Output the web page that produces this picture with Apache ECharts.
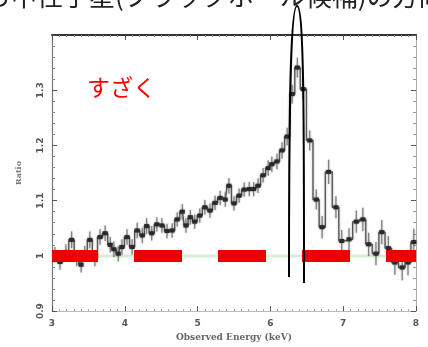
<!DOCTYPE html>
<html>
<head>
<meta charset="utf-8">
<script src="https://cdn.jsdelivr.net/npm/echarts@6/dist/echarts.min.js"></script>
<style>
  html, body { margin: 0; padding: 0; background: #fff; }
  #main { width: 428px; height: 347px; }
</style>
</head>
<body>
<div id="main"></div>
<script>
// spectrum ratio (keV, data/model)
const energy = [3.04, 3.11, 3.19, 3.27, 3.34, 3.40, 3.45, 3.52, 3.59, 3.66,
  3.73, 3.80, 3.85, 3.91, 3.96, 4.03, 4.10, 4.17, 4.24, 4.30,
  4.37, 4.44, 4.51, 4.58, 4.65, 4.72, 4.79, 4.84, 4.90, 4.96,
  5.03, 5.10, 5.17, 5.24, 5.31, 5.38, 5.43, 5.50, 5.57, 5.64,
  5.71, 5.77, 5.83, 5.90, 5.97, 6.02, 6.09, 6.16, 6.23, 6.30,
  6.37, 6.45, 6.54, 6.63, 6.71, 6.80, 6.90, 6.98, 7.08, 7.18,
  7.27, 7.35, 7.45, 7.53, 7.62, 7.71, 7.81, 7.89, 7.97];
const ratio = [1.002, 0.989, 1.007, 1.029, 0.995, 0.984, 1.004, 1.029, 0.995, 1.034,
  1.041, 1.020, 1.012, 1.004, 1.016, 1.034, 1.016, 1.046, 1.037, 1.054,
  1.041, 1.057, 1.055, 1.045, 1.046, 1.066, 1.080, 1.055, 1.070, 1.062,
  1.073, 1.088, 1.082, 1.096, 1.105, 1.102, 1.127, 1.095, 1.109, 1.120,
  1.121, 1.121, 1.127, 1.146, 1.159, 1.166, 1.171, 1.191, 1.216, 1.293,
  1.341, 1.302, 1.209, 1.102, 1.052, 1.152, 1.088, 1.027, 1.030, 1.062,
  1.066, 1.021, 1.004, 1.043, 1.014, 0.988, 0.979, 0.988, 1.025];
const ratioErr = [0.014, 0.014, 0.014, 0.015, 0.014, 0.014, 0.014, 0.015, 0.014, 0.014,
  0.014, 0.014, 0.014, 0.014, 0.014, 0.014, 0.014, 0.014, 0.014, 0.014,
  0.013, 0.013, 0.013, 0.013, 0.013, 0.013, 0.014, 0.013, 0.013, 0.013,
  0.013, 0.013, 0.013, 0.013, 0.013, 0.013, 0.014, 0.013, 0.013, 0.013,
  0.013, 0.013, 0.013, 0.013, 0.014, 0.014, 0.014, 0.015, 0.016, 0.017,
  0.018, 0.018, 0.018, 0.018, 0.020, 0.022, 0.020, 0.020, 0.020, 0.020,
  0.021, 0.021, 0.021, 0.022, 0.022, 0.022, 0.023, 0.023, 0.024];

const xTickLabels = ['3', '4', '5', '6', '7', '8'];
const yTickLabels = ['0.9', '1', '1.1', '1.2', '1.3', ''];
const modelLevel = [1];
const headline = 'ら中性子星(ブラックホール候補)の方向';
const missionLabel = 'すざく';

const chart = echarts.init(document.getElementById('main'));
const points = energy.map((e, i) => [e, ratio[i], ratioErr[i]]);
const stepPts = energy.map((e, i) => [e, ratio[i]]);

const labelFont = { fontSize: 9, fontWeight: 'bold', color: '#555', fontFamily: 'DejaVu Sans' };
const tickIn = { show: true, inside: true, length: 5, lineStyle: { color: '#555' } };
const blur = { shadowBlur: 2, shadowColor: 'rgba(0,0,0,0.4)' };

const option = {
  animation: false,
  grid: { left: 52, right: 12, top: 35, bottom: 32 },
  xAxis: [
    {
      type: 'value', min: 3, max: 8, interval: 1,
      name: 'Observed Energy (keV)', nameLocation: 'middle', nameGap: 20,
      nameTextStyle: { fontSize: 9, fontWeight: 'bold', color: '#666', fontFamily: 'DejaVu Serif' },
      axisLine: { lineStyle: { color: '#bbb', width: 1 } },
      axisTick: tickIn,
      minorTick: { show: true, splitNumber: 10, length: 2, lineStyle: { color: '#aaa' } },
      axisLabel: Object.assign({ margin: 8, formatter: v => xTickLabels[Math.round(v - 3)] }, labelFont),
      splitLine: { show: false }
    },
    {
      type: 'value', min: 3, max: 8, interval: 1, position: 'top',
      axisLine: { lineStyle: { color: '#333', width: 2 } },
      axisTick: tickIn,
      minorTick: { show: true, splitNumber: 10, length: 2, lineStyle: { color: '#888' } },
      axisLabel: { show: false },
      splitLine: { show: false }
    }
  ],
  yAxis: [
    {
      type: 'value', min: 0.9, max: 1.4, interval: 0.1,
      name: 'Ratio', nameLocation: 'middle', nameGap: 29,
      nameTextStyle: { fontSize: 8, fontWeight: 'bold', color: '#777', fontFamily: 'DejaVu Serif' },
      axisLine: { show: true, lineStyle: { color: '#777', width: 1.2 } },
      axisTick: tickIn,
      minorTick: { show: true, splitNumber: 5, length: 3, lineStyle: { color: '#888' } },
      axisLabel: Object.assign({ rotate: 90, margin: 7,
        formatter: v => yTickLabels[Math.round((v - 0.9) / 0.1)] }, labelFont),
      splitLine: { show: false }
    },
    {
      type: 'value', min: 0.9, max: 1.4, interval: 0.1, position: 'right',
      axisLine: { show: true, lineStyle: { color: '#aaa', width: 1 } },
      axisTick: tickIn,
      minorTick: { show: true, splitNumber: 5, length: 3, lineStyle: { color: '#999' } },
      axisLabel: { show: false },
      splitLine: { show: false }
    }
  ],
  series: [
    {
      // model level (green) + red dashed overlay
      type: 'line',
      data: [[3, modelLevel[0]], [8, modelLevel[0]]],
      showSymbol: false,
      lineStyle: { color: '#d9edd6', width: 3 },
      z: 1,
      markLine: {
        silent: true,
        symbol: ['none', 'none'],
        label: { show: false },
        data: [{ yAxis: modelLevel[0] }],
        lineStyle: { color: '#ee0000', width: 12, type: [48, 36], dashOffset: 2, opacity: 1 },
        z: 10
      }
    },
    {
      type: 'line',
      step: 'middle',
      data: stepPts,
      showSymbol: false,
      lineStyle: Object.assign({ color: '#555', width: 1.3 }, blur),
      z: 3
    },
    {
      type: 'custom',
      data: points,
      z: 4,
      renderItem: (params, api) => {
        const x = api.value(0), y = api.value(1), e = api.value(2);
        const hi = api.coord([x, y + e]);
        const lo = api.coord([x, y - e]);
        const c = api.coord([x, y]);
        return {
          type: 'group',
          children: [
            { type: 'line', shape: { x1: hi[0], y1: hi[1], x2: lo[0], y2: lo[1] },
              style: Object.assign({ stroke: '#777', lineWidth: 1.1 }, blur) },
            { type: 'rect', shape: { x: c[0] - 2.5, y: c[1] - 2, width: 5, height: 4 },
              style: Object.assign({ fill: '#2a2a2a' }, blur) }
          ]
        };
      }
    }
  ],
  graphic: [
    {
      type: 'text', x: -15, y: 9, z: 100,
      style: { text: headline, font: '26px "Noto Sans CJK JP"', fill: '#222', verticalAlign: 'bottom' }
    },
    {
      type: 'text', x: 87, y: 76, z: 100,
      style: { text: missionLabel, font: '23px "Noto Sans CJK JP"', fill: '#ff0000' }
    },
    // annotation loop around the iron line
    {
      type: 'bezierCurve', z: 100,
      shape: { x1: 289, y1: 277, cpx1: 289, cpy1: 120, cpx2: 290, cpy2: 6, x2: 297, y2: 6 },
      style: { stroke: '#000', lineWidth: 2, fill: null }
    },
    {
      type: 'bezierCurve', z: 100,
      shape: { x1: 297, y1: 6, cpx1: 304, cpy1: 6, cpx2: 304, cpy2: 120, x2: 304, y2: 283 },
      style: { stroke: '#000', lineWidth: 2, fill: null }
    }
  ]
};

chart.setOption(option);
</script>
</body>
</html>
